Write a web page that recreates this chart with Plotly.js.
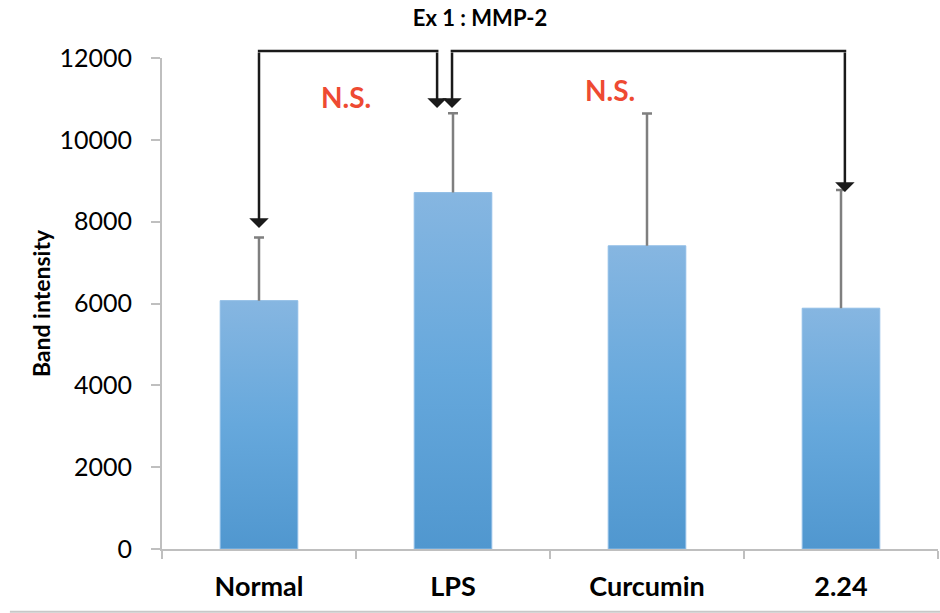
<!DOCTYPE html>
<html>
<head>
<meta charset="utf-8">
<script src="https://cdn.plot.ly/plotly-3.0.1.min.js"></script>
<style>
  html, body { margin: 0; padding: 0; background: #fff; }
  #chart { width: 940px; height: 613px; }
</style>
</head>
<body>
<div id="chart"></div>
<script>
// ---- data ----
const categories = ["Normal", "LPS", "Curcumin", "2.24"];
const bandIntensity = [6070, 8710, 7410, 5885];
const errorPlus = [1540, 1940, 3235, 2890];
const errorMinus = [0, 0, 0, 0];
const chartTitle = "Ex 1 : MMP-2";
const yTitle = "Band intensity";
const sigLabels = ["N.S.", "N.S."];

const FONT = "Lato, 'Open Sans', sans-serif";

const trace = {
  type: "bar",
  x: categories,
  y: bandIntensity,
  marker: { color: "#67a6da", line: { color: "#8fbde6", width: 1 } },
  error_y: {
    type: "data",
    symmetric: false,
    array: errorPlus,
    arrayminus: errorMinus,
    color: "#7f7f7f",
    thickness: 2.5,
    width: 5
  },
  hoverinfo: "none"
};

const topY = 12171;   // bracket top (data units)
const topPaper = 1 + (topY - 12000) / 12000;
const LC = "#1a1a1a";
function arrow(x, yTip) {
  return {
    x: x, y: yTip, xref: "x", yref: "y",
    ax: x, ay: topY, axref: "x", ayref: "y",
    text: "", showarrow: true,
    arrowhead: 1, arrowsize: 1.3, arrowwidth: 2.5, arrowcolor: LC,
    standoff: 0, startstandoff: 0
  };
}
function hline(x0, x1) {
  return { type: "line", xref: "x", yref: "paper", x0: x0, x1: x1, y0: topPaper, y1: topPaper,
    line: { color: LC, width: 2.5 } };
}

const annotations = [
  arrow(0, 7845),
  arrow(0.918, 10778),
  arrow(0.995, 10778),
  arrow(3.02, 8725),
  { x: 0.45, y: 11047, xref: "x", yref: "y", text: sigLabels[0], showarrow: false,
    font: { family: FONT, size: 28, color: "#ee4a32", weight: "bold" } },
  { x: 1.807, y: 11218, xref: "x", yref: "y", text: sigLabels[1], showarrow: false,
    font: { family: FONT, size: 28, color: "#ee4a32", weight: "bold" } }
];

const layout = {
  width: 940, height: 613,
  margin: { l: 162, r: 2, t: 58, b: 64 },
  paper_bgcolor: "#fff", plot_bgcolor: "#fff",
  showlegend: false,
  bargap: 0.6,
  font: { family: FONT, color: "#000" },
  title: {
    text: chartTitle,
    x: 480 / 940, xanchor: "center", xref: "container",
    y: 1 - 18 / 613, yanchor: "middle", yref: "container",
    font: { family: FONT, size: 22, color: "#000", weight: "bold" }
  },
  xaxis: {
    type: "category",
    tickson: "boundaries",
    ticks: "outside", ticklen: 8, tickwidth: 2, tickcolor: "#bfbfbf",
    showline: true, linecolor: "#bfbfbf", linewidth: 2,
    showgrid: false, zeroline: false,
    tickfont: { family: FONT, size: 27, color: "#000", weight: "bold" },
    ticklabelstandoff: 13,
    fixedrange: true
  },
  yaxis: {
    range: [0, 12000],
    tickmode: "linear", tick0: 0, dtick: 2000, tickformat: "d",
    ticks: "outside", ticklen: 9, tickwidth: 2, tickcolor: "#bfbfbf",
    showline: true, linecolor: "#bfbfbf", linewidth: 2,
    showgrid: false, zeroline: false,
    tickfont: { family: FONT, size: 25, color: "#000" },
    ticklabelstandoff: 14,
    title: { text: yTitle, font: { family: FONT, size: 23, color: "#000", weight: "bold" }, standoff: 2 },
    fixedrange: true
  },
  annotations: annotations,
  shapes: [
    hline(-0.006, 0.925),
    hline(0.988, 3.027),
    { type: "line", xref: "paper", yref: "paper", x0: -0.196, x1: 1.01, y0: -0.128, y1: -0.128,
      line: { color: "#c8c8c8", width: 2 } }
  ]
};

Plotly.newPlot("chart", [trace], layout, { displayModeBar: false, staticPlot: true }).then(function (gd) {
  // apply a vertical gradient to the bars (Excel-style)
  const svg = gd.querySelector("svg.main-svg");
  const ns = "http://www.w3.org/2000/svg";
  let defs = svg.querySelector("defs");
  if (!defs) { defs = document.createElementNS(ns, "defs"); svg.insertBefore(defs, svg.firstChild); }
  const grad = document.createElementNS(ns, "linearGradient");
  grad.setAttribute("id", "barGrad");
  grad.setAttribute("x1", "0"); grad.setAttribute("y1", "0");
  grad.setAttribute("x2", "0"); grad.setAttribute("y2", "1");
  [["0%", "#86b6e1"], ["50%", "#66a8dc"], ["100%", "#5097cf"]].forEach(function (s) {
    const st = document.createElementNS(ns, "stop");
    st.setAttribute("offset", s[0]); st.setAttribute("stop-color", s[1]);
    grad.appendChild(st);
  });
  defs.appendChild(grad);
  gd.querySelectorAll(".bars .point path").forEach(function (p) {
    p.style.fill = "url(#barGrad)";
  });
  // plus-only error bars: drop the lower cap hidden behind the bar in the original
  gd.querySelectorAll(".errorbar path.yerror").forEach(function (p) {
    const d = p.getAttribute("d");
    if (d) p.setAttribute("d", d.replace(/m-?[\d.]+,0h[\d.]+\s*$/, ""));
  });
});
</script>
</body>
</html>
